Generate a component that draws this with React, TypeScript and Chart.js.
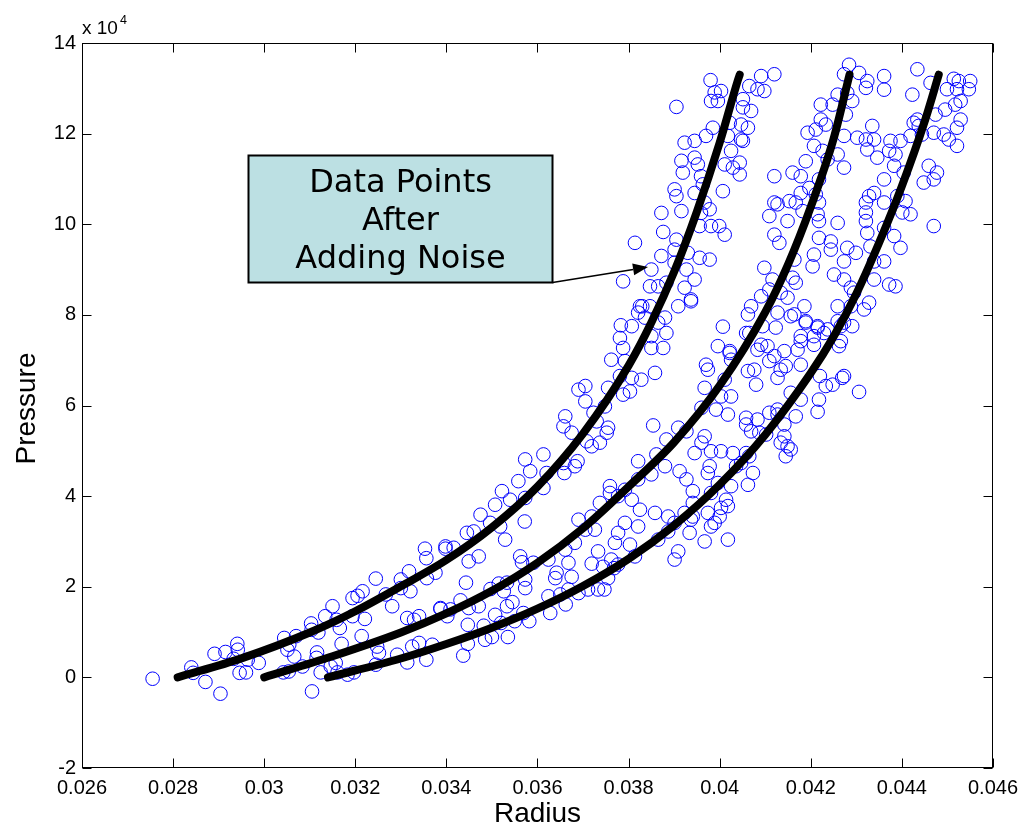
import React, { useEffect, useRef } from "react";
import { Chart, registerables } from "chart.js";

Chart.register(...registerables);

// ---------- axis ticks ----------
const radiusTicks = [0.026, 0.028, 0.03, 0.032, 0.034, 0.036, 0.038, 0.04, 0.042, 0.044, 0.046];
const pressureTicks = [-20000, 0, 20000, 40000, 60000, 80000, 100000, 120000, 140000];

// ---------- model curves (black dots) ----------
const curve1Radius = [0.0281, 0.0295, 0.031, 0.032, 0.033, 0.034, 0.035, 0.036, 0.037, 0.038, 0.0385, 0.039, 0.0395, 0.04, 0.0404, 0.04044];
const curve1Pressure = [0, 4200, 9900, 14600, 20100, 25900, 33100, 42100, 53800, 68800, 78300, 89500, 102800, 118000, 131800, 133000];

const curve2Radius = [0.03, 0.0315, 0.033, 0.034, 0.035, 0.036, 0.037, 0.038, 0.039, 0.04, 0.041, 0.0415, 0.042, 0.0425, 0.04285];
const curve2Pressure = [0, 4650, 9900, 14100, 19100, 25300, 32900, 42100, 51900, 64400, 80600, 91100, 103850, 118850, 133000];

const curve3Radius = [0.0314, 0.033, 0.034, 0.035, 0.036, 0.037, 0.038, 0.039, 0.04, 0.041, 0.042, 0.0425, 0.043, 0.0435, 0.044, 0.0445, 0.04481];
const curve3Pressure = [0, 4160, 7360, 10960, 15160, 20160, 26160, 33560, 42560, 53560, 67160, 75160, 84660, 95910, 108410, 122660, 133000];

// ---------- noisy measurements (blue circles): [radius, pressure] ----------
const noisyLow: [number, number][] = [
  [0.02755, -300], [0.0284, 2200], [0.02844, 1000], [0.02871, -1000], [0.02904, -3600], [0.02891, 5200], [0.02915, 5600],
  [0.02941, 7400], [0.02942, 6100], [0.02933, 4100], [0.02946, 1000], [0.0296, 1100], [0.02964, 3900], [0.02988, 3200],
  [0.03044, 8700], [0.03055, 7200], [0.03051, 6100], [0.0307, 9100], [0.03066, 4600], [0.03042, 1100], [0.03054, 1300],
  [0.03084, 2400], [0.03103, 11900], [0.03104, 10500], [0.03119, 9900], [0.03116, 5500], [0.03115, 4300], [0.03105, -3100],
  [0.03124, 1100], [0.0315, 15700], [0.03134, 13500], [0.03159, 12700], [0.03166, 10900], [0.0317, 7400], [0.03146, 2400],
  [0.03157, 3200], [0.03161, 1100], [0.03183, 600], [0.03197, 1100], [0.03194, 17500], [0.03205, 18000], [0.03216, 19000],
  [0.03194, 13500], [0.03221, 12900], [0.03214, 9100], [0.03245, 21800], [0.03248, 6800], [0.03252, 5400], [0.03245, 2800],
  [0.03267, 18300], [0.03281, 15700], [0.033, 21600], [0.03318, 23400], [0.03321, 19000], [0.033, 19700], [0.03292, 5000],
  [0.03314, 3300], [0.03314, 13100], [0.0334, 13500], [0.03329, 12700], [0.03325, 6800], [0.0334, 7600], [0.03353, 28400],
  [0.03356, 26300], [0.03357, 21900], [0.03369, 7200], [0.03356, 3900], [0.03387, 15300], [0.03398, 28400], [0.03402, 13500],
  [0.03376, 23100], [0.03443, 20900], [0.03387, 15100], [0.03409, 15000], [0.03431, 17000], [0.03449, 15300], [0.03447, 11600],
  [0.03471, 15700], [0.03447, 7400], [0.03437, 4800], [0.03482, 11400], [0.03497, 19500], [0.03515, 20700], [0.03533, 20900],
  [0.03526, 19000], [0.03507, 13800], [0.0352, 12000], [0.035, 8900], [0.03485, 8300], [0.03535, 8900], [0.03533, 15700],
  [0.03545, 16600], [0.0355, 12400], [0.03573, 21600], [0.03573, 19700], [0.03569, 14200], [0.03582, 12400], [0.03591, 25300],
  [0.03566, 25400], [0.03628, 14200], [0.03624, 17900], [0.03642, 23100], [0.03639, 21900], [0.03675, 22200], [0.03662, 16100],
  [0.03668, 19400], [0.0365, 18300], [0.0369, 18600], [0.03711, 19400], [0.03733, 19400], [0.03747, 19400], [0.03755, 21900],
  [0.03744, 24400], [0.03768, 24100], [0.03777, 24900], [0.03719, 25100], [0.03901, 26000],
];

const noisyMid: [number, number][] = [
  [0.03783, 77700], [0.03781, 74900], [0.03807, 77500], [0.03821, 80500], [0.0383, 81900], [0.03847, 81900], [0.03836, 79400],
  [0.03865, 78300], [0.0388, 79400], [0.03883, 76000], [0.0385, 75300], [0.03876, 72700], [0.0385, 72700], [0.03788, 72700],
  [0.03762, 70100], [0.03792, 69800], [0.03781, 66500], [0.03807, 66100], [0.03828, 65700], [0.03858, 67200], [0.03788, 62400],
  [0.03755, 63900], [0.03803, 63100], [0.03909, 81900], [0.03937, 83000], [0.03705, 64300], [0.0369, 63500], [0.03705, 60900],
  [0.03661, 57600], [0.03657, 55400], [0.03723, 58400], [0.03748, 59800], [0.03755, 55100], [0.03752, 54000], [0.03708, 52100],
  [0.03719, 51000], [0.03737, 51800], [0.0373, 56500], [0.03675, 54000], [0.03613, 49200], [0.03657, 47300], [0.03688, 47700],
  [0.03682, 46600], [0.03659, 45100], [0.0362, 45100], [0.03584, 45500], [0.03613, 41800], [0.03558, 43300], [0.03522, 41100],
  [0.0354, 39200], [0.03573, 39600], [0.03572, 34400], [0.03507, 38100], [0.03475, 35900], [0.03496, 34100], [0.03518, 33300],
  [0.03529, 30400], [0.0346, 32200], [0.03445, 31900], [0.03398, 28900], [0.03416, 28600], [0.03471, 26700], [0.03449, 25600],
  [0.03562, 26700], [0.03624, 26000], [0.03668, 25300],
  [0.04007, 77400], [0.03996, 73100], [0.04022, 71600], [0.04025, 70100], [0.0397, 69000], [0.03974, 67900], [0.04011, 65700],
  [0.03967, 63900], [0.04003, 62000], [0.04025, 62000], [0.0396, 59500], [0.03992, 59100], [0.04018, 58000], [0.03854, 55600],
  [0.03909, 55100], [0.03927, 54300], [0.03883, 52500], [0.03967, 53200], [0.0396, 51800], [0.03945, 49500], [0.03981, 49900],
  [0.04003, 49900], [0.04029, 49500], [0.03861, 49200], [0.0388, 46600], [0.03821, 47700], [0.0385, 44800], [0.03912, 45500],
  [0.03927, 43700], [0.03974, 45100], [0.03996, 42900], [0.04025, 42200], [0.03941, 41100], [0.03821, 43700], [0.03792, 41400],
  [0.03759, 42200], [0.03737, 38500], [0.03759, 40700], [0.03777, 40000], [0.03807, 39200], [0.03825, 37000], [0.03858, 36300],
  [0.03887, 35500], [0.03901, 34100], [0.03923, 36300], [0.03941, 38500], [0.04, 35500], [0.03981, 33300], [0.03974, 36300],
  [0.04014, 39200], [0.03887, 32200], [0.03865, 30400], [0.03821, 33300], [0.03792, 34100], [0.03777, 31900], [0.0377, 29700],
  [0.03803, 29300], [0.03814, 26700], [0.03762, 26000], [0.03733, 27800], [0.03726, 32600], [0.03705, 32600], [0.0369, 34800],
  [0.03719, 35500], [0.03682, 29700], [0.03661, 28200], [0.03934, 31900], [0.03937, 34800], [0.03967, 30000], [0.03989, 34100],
  [0.04018, 37800], [0.04018, 30400], [0.03978, 46600], [0.03573, 48100],
];

const noisyHighLeft: [number, number][] = [
  [0.0398, 131800], [0.03905, 125900], [0.03989, 129100], [0.04003, 129400], [0.03981, 127200], [0.03996, 127200], [0.04065, 130500],
  [0.04091, 132700], [0.04098, 129400], [0.04083, 129800], [0.04051, 127600], [0.04051, 125800], [0.04069, 125000], [0.04047, 122000],
  [0.04062, 121300], [0.04022, 122400], [0.03985, 121300], [0.0397, 119500], [0.04018, 119500], [0.03923, 118000], [0.03945, 118400],
  [0.04051, 118400], [0.04025, 116200], [0.03916, 114000], [0.03945, 114700], [0.03952, 113200], [0.04011, 113200], [0.04044, 113600],
  [0.04029, 112500], [0.04044, 111000], [0.03919, 111400], [0.03959, 110600], [0.03901, 107700], [0.03905, 106200], [0.03945, 106900],
  [0.04007, 107300], [0.03963, 108800], [0.03967, 104800], [0.03978, 103300], [0.03872, 102500], [0.03916, 102900], [0.03959, 102500],
  [0.03956, 99600], [0.03876, 98300], [0.03905, 96600], [0.03981, 99600], [0.03999, 99600], [0.04011, 97700], [0.03814, 95900],
  [0.03901, 94400], [0.0393, 93700], [0.03872, 93000], [0.03956, 92600], [0.03978, 92200], [0.03901, 91500], [0.0385, 90000],
  [0.03927, 90000], [0.03788, 87400], [0.03847, 86300], [0.03865, 86300], [0.03883, 87100], [0.03945, 87800], [0.03923, 86000],
  [0.03937, 83400], [0.03825, 81900], [0.0412, 110600], [0.04109, 101800], [0.0412, 104800], [0.0412, 133100], [0.04047, 118700],
];

const noisyHighRight: [number, number][] = [
  [0.04284, 135200], [0.04273, 133100], [0.04306, 133400], [0.04324, 131600], [0.04321, 130100], [0.04361, 132700], [0.04361, 129700],
  [0.04259, 128600], [0.0428, 129000], [0.04291, 127200], [0.04222, 126400], [0.04248, 126400], [0.04277, 124200], [0.04222, 123100],
  [0.04233, 122000], [0.04211, 120900], [0.04193, 120200], [0.04273, 119500], [0.04302, 119100], [0.04321, 118700], [0.04335, 121700],
  [0.04339, 118700], [0.04324, 116500], [0.04346, 114700], [0.04207, 117300], [0.04226, 116200], [0.04259, 115400], [0.04237, 114300],
  [0.04273, 112500], [0.04189, 113900], [0.0416, 111400], [0.04178, 110600], [0.04197, 108000], [0.04211, 106600], [0.04218, 109900],
  [0.04178, 106900], [0.04167, 104800], [0.04127, 104400], [0.04153, 105100], [0.04218, 104800], [0.04182, 102900], [0.04215, 102200],
  [0.04149, 100700], [0.04218, 100700], [0.04259, 100300], [0.0412, 97700], [0.04131, 95900], [0.04218, 97000], [0.04244, 96200],
  [0.04244, 94400], [0.04207, 93300], [0.04164, 92200], [0.04098, 90400], [0.04204, 90700], [0.0416, 88200], [0.04167, 87100],
  [0.04116, 87800], [0.04109, 85600], [0.04134, 84900], [0.04149, 83800], [0.04091, 84100], [0.04186, 81900], [0.04127, 80500],
  [0.04156, 79700], [0.04062, 80100], [0.04069, 81900], [0.04189, 78300], [0.04058, 76000], [0.04123, 77200], [0.04094, 77500],
  [0.04434, 134200], [0.04423, 128600], [0.04463, 131200], [0.04514, 132100], [0.04525, 131600], [0.0455, 131600], [0.04499, 129800],
  [0.04521, 129800], [0.04547, 129800], [0.04529, 127200], [0.04517, 126400], [0.04495, 125300], [0.04474, 124200], [0.04434, 123100],
  [0.04426, 122400], [0.04437, 121700], [0.04529, 123100], [0.04521, 121300], [0.04419, 119500], [0.04444, 119800], [0.0447, 120200],
  [0.04492, 119800], [0.04503, 118700], [0.04521, 117300], [0.04375, 118400], [0.04397, 118400], [0.04386, 115400], [0.04372, 116200],
  [0.04383, 112900], [0.04404, 111400], [0.04459, 112900], [0.04477, 111400], [0.04448, 109200], [0.0447, 109900], [0.04361, 109900],
  [0.04339, 106900], [0.04328, 106200], [0.04321, 104800], [0.04361, 104800], [0.0439, 106200], [0.04408, 105100], [0.04419, 102200],
  [0.04401, 102600], [0.04321, 102600], [0.04321, 100700], [0.04324, 98100], [0.04361, 99200], [0.04383, 97400], [0.04397, 94800],
  [0.0447, 99600], [0.0428, 94800], [0.04299, 93700], [0.04273, 91800], [0.04331, 95100], [0.04339, 91800], [0.04361, 91800],
  [0.04251, 88900], [0.04273, 87800], [0.04288, 86000], [0.04295, 84900], [0.04339, 87800], [0.04372, 86700], [0.04386, 86300],
  [0.04259, 81900], [0.04288, 81900], [0.04317, 81200], [0.04328, 82700], [0.04215, 77500], [0.04237, 76800], [0.04266, 77500],
  [0.04291, 77500], [0.04178, 75300], [0.04207, 75300],
];

const noisyLowerRight: [number, number][] = [
  [0.04164, 80100], [0.04189, 78600], [0.04065, 76000], [0.04022, 72000], [0.04076, 67900], [0.0408, 64600], [0.04105, 73100],
  [0.04091, 73400], [0.04083, 72300], [0.04109, 69800], [0.0412, 70900], [0.04134, 67900], [0.04127, 66100], [0.04142, 72000],
  [0.04171, 72300], [0.04145, 68700], [0.04178, 69000], [0.04178, 74200], [0.04207, 73400], [0.04215, 77200], [0.04229, 76000],
  [0.04273, 78300], [0.04259, 78600], [0.04266, 74200], [0.04262, 73100], [0.0422, 66500], [0.04248, 64600], [0.04269, 66100],
  [0.04233, 64300], [0.04306, 63000], [0.04218, 61300], [0.04215, 58600], [0.04167, 57600], [0.04156, 62800], [0.04178, 61300],
  [0.04062, 67600], [0.04058, 57300], [0.04083, 56900], [0.04109, 58400], [0.04127, 59100], [0.04127, 58000], [0.04142, 55800],
  [0.04069, 54300], [0.04087, 54000], [0.04102, 53600], [0.04142, 53200], [0.04149, 51000], [0.04145, 48800], [0.04156, 50300],
  [0.04134, 51800], [0.04058, 55800], [0.04058, 49500], [0.04065, 48800], [0.04047, 47300], [0.04036, 46600], [0.04073, 45100],
  [0.04062, 42500], [0.03981, 40700], [0.04003, 37400], [0.03941, 35500], [0.03909, 27800], [0.04273, 66500],
];

const annotationLines = ["Data Points", "After", "Adding Noise"];

const SANS = "'Liberation Sans', Arial, Helvetica, sans-serif";

function zipCurve(rs: number[], ps: number[]) {
  return rs.map((r, i) => ({ x: r, y: ps[i] }));
}

const decorPlugin = {
  id: "matlabDecor",
  afterDraw(chart: any) {
    const { ctx, chartArea: a, scales } = chart;
    const xs = scales.x;
    const ys = scales.y;
    const L = Math.round(a.left) + 0.5;
    const R = Math.round(a.right) - 0.5;
    const T = Math.round(a.top) + 0.5;
    const B = Math.round(a.bottom) - 0.5;
    ctx.save();
    ctx.strokeStyle = "#000";
    ctx.lineWidth = 1;
    ctx.strokeRect(L, T, R - L, B - T);
    const tl = 9;
    ctx.beginPath();
    radiusTicks.forEach((v) => {
      const px = Math.round(xs.getPixelForValue(v)) + 0.5;
      ctx.moveTo(px, B);
      ctx.lineTo(px, B - tl);
      ctx.moveTo(px, T);
      ctx.lineTo(px, T + tl);
    });
    pressureTicks.forEach((v) => {
      const py = Math.round(ys.getPixelForValue(v)) + 0.5;
      ctx.moveTo(L, py);
      ctx.lineTo(L + tl, py);
      ctx.moveTo(R, py);
      ctx.lineTo(R - tl, py);
    });
    ctx.stroke();

    // exponent label "x 10^4"
    ctx.fillStyle = "#000";
    ctx.textBaseline = "alphabetic";
    ctx.textAlign = "left";
    ctx.font = `19px ${SANS}`;
    ctx.fillText("x 10", a.left, a.top - 9);
    const w = ctx.measureText("x 10").width;
    ctx.font = `12.5px ${SANS}`;
    ctx.fillText("4", a.left + w + 2, a.top - 19);

    // axis titles
    ctx.font = `28px ${SANS}`;
    ctx.textAlign = "center";
    ctx.textBaseline = "middle";
    ctx.fillText("Radius", (a.left + a.right) / 2, 814);
    ctx.save();
    ctx.translate(27, (a.top + a.bottom) / 2 + 3);
    ctx.rotate(-Math.PI / 2);
    ctx.fillText("Pressure", 0, 0);
    ctx.restore();

    // annotation box
    const bx = 248.5, by = 155.5, bw = 304, bh = 127;
    ctx.fillStyle = "#bce0e3";
    ctx.fillRect(bx, by, bw, bh);
    ctx.lineWidth = 2;
    ctx.strokeStyle = "#000";
    ctx.strokeRect(bx, by, bw, bh);
    ctx.fillStyle = "#000";
    ctx.font = `32px 'DejaVu Sans', Verdana, sans-serif`;
    ctx.textAlign = "center";
    ctx.textBaseline = "middle";
    const cy = [184, 222, 260];
    annotationLines.forEach((t, i) => ctx.fillText(t, bx + bw / 2, cy[i]));

    // arrow
    const x0 = bx + bw, y0 = by + bh;
    const x1 = 648, y1 = 267;
    const ang = Math.atan2(y1 - y0, x1 - x0);
    const hl = 15, hw = 6;
    ctx.lineWidth = 1.5;
    ctx.beginPath();
    ctx.moveTo(x0, y0);
    ctx.lineTo(x1 - hl * Math.cos(ang), y1 - hl * Math.sin(ang));
    ctx.stroke();
    ctx.beginPath();
    ctx.moveTo(x1, y1);
    ctx.lineTo(x1 - hl * Math.cos(ang) + hw * Math.sin(ang), y1 - hl * Math.sin(ang) - hw * Math.cos(ang));
    ctx.lineTo(x1 - hl * Math.cos(ang) - hw * Math.sin(ang), y1 - hl * Math.sin(ang) + hw * Math.cos(ang));
    ctx.closePath();
    ctx.fill();
    ctx.restore();
  },
};

export default function App() {
  const canvasRef = useRef<HTMLCanvasElement | null>(null);

  useEffect(() => {
    if (!canvasRef.current) return;
    const noisy = [...noisyLow, ...noisyMid, ...noisyHighLeft, ...noisyHighRight, ...noisyLowerRight].map(([r, p]) => ({ x: r, y: p }));
    const curveStyle = {
      showLine: true,
      borderColor: "#000",
      backgroundColor: "#000",
      borderWidth: 8,
      pointRadius: 0,
      borderCapStyle: "round" as const,
      borderJoinStyle: "round" as const,
      cubicInterpolationMode: "monotone" as const,
      order: 1,
    };
    const chart = new Chart(canvasRef.current, {
      type: "scatter",
      data: {
        datasets: [
          { label: "Model 1", data: zipCurve(curve1Radius, curve1Pressure), ...curveStyle },
          { label: "Model 2", data: zipCurve(curve2Radius, curve2Pressure), ...curveStyle },
          { label: "Model 3", data: zipCurve(curve3Radius, curve3Pressure), ...curveStyle },
          {
            label: "Noisy data",
            data: noisy,
            pointStyle: "circle",
            pointRadius: 6.8,
            pointBorderWidth: 1,
            borderWidth: 1,
            borderColor: "#0000ff",
            pointBorderColor: "#0000ff",
            backgroundColor: "rgba(0,0,0,0)",
            pointBackgroundColor: "rgba(0,0,0,0)",
            showLine: false,
            order: 2,
          },
        ],
      },
      options: {
        animation: false,
        responsive: false,
        events: [],
        layout: { padding: { left: 0, right: 30, top: 43, bottom: 0 } },
        plugins: { legend: { display: false }, tooltip: { enabled: false } },
        scales: {
          x: {
            type: "linear",
            min: 0.026,
            max: 0.046,
            grid: { display: false, drawTicks: false },
            border: { display: false },
            afterBuildTicks: (s: any) => {
              s.ticks = radiusTicks.map((v) => ({ value: v }));
            },
            afterFit: (s: any) => {
              s.height = 61;
            },
            ticks: {
              autoSkip: false,
              maxRotation: 0,
              padding: 8,
              color: "#000",
              font: { family: SANS, size: 20 },
              callback: (v: any) => String(Number(Number(v).toFixed(3))),
            },
          },
          y: {
            type: "linear",
            min: -20000,
            max: 140000,
            grid: { display: false, drawTicks: false },
            border: { display: false },
            afterBuildTicks: (s: any) => {
              s.ticks = pressureTicks.map((v) => ({ value: v }));
            },
            afterFit: (s: any) => {
              s.width = 82;
            },
            ticks: {
              autoSkip: false,
              padding: 6,
              color: "#000",
              font: { family: SANS, size: 20 },
              callback: (v: any) => String(Number(v) / 10000),
            },
          },
        },
      },
      plugins: [decorPlugin],
    });
    return () => chart.destroy();
  }, []);

  return (
    <div style={{ position: "absolute", left: 0, top: 0, width: 1026, height: 829, background: "#fff" }}>
      <canvas ref={canvasRef} width={1026} height={829} />
    </div>
  );
}
